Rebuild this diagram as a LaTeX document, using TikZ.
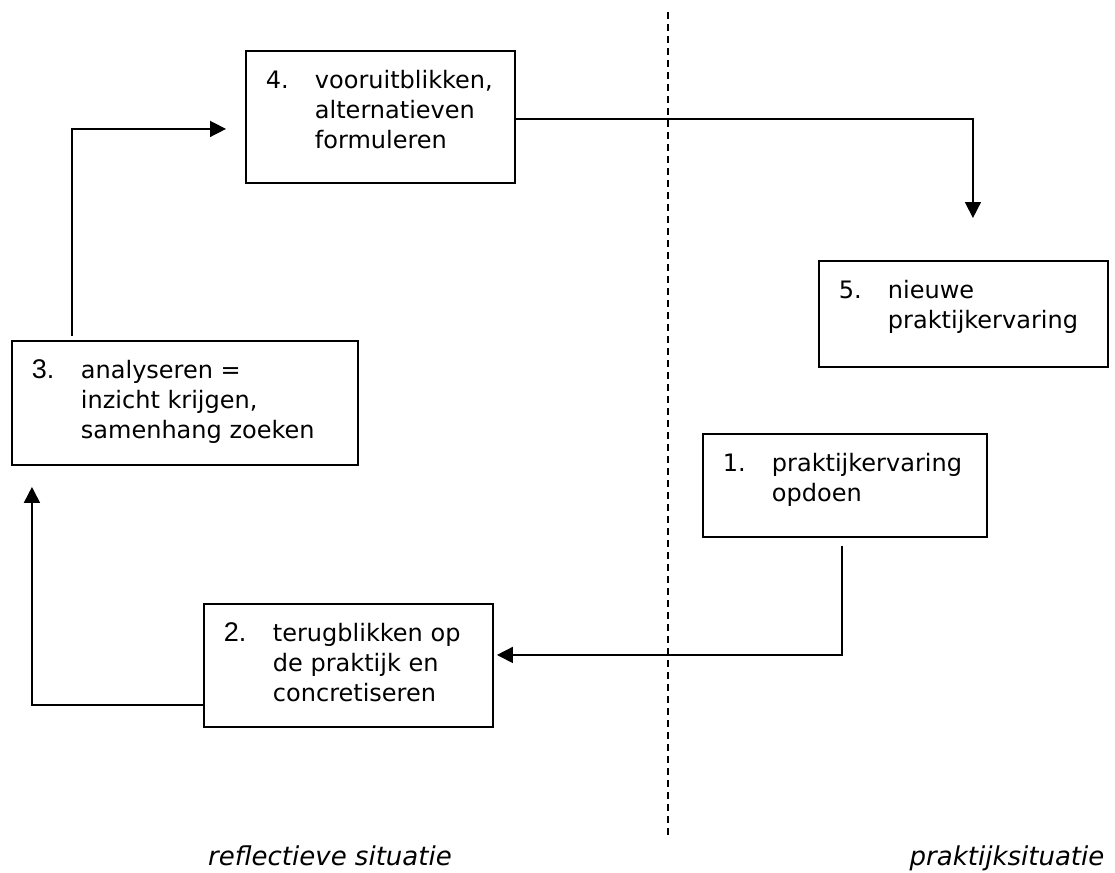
\documentclass[tikz,border=0pt]{standalone}
\usepackage{fontspec}
\setmainfont{DejaVu Sans}
\newfontfamily\cijferfont{Liberation Sans}
\usetikzlibrary{arrows.meta}

\newcommand{\fasetekst}[4]{%
\parbox[t][#2pt][t]{#1pt}{\vspace*{17pt}%
\hspace*{20pt}\makebox[49pt][l]{#3}\begin{tabular}[t]{@{}l@{}}#4\end{tabular}}}

\tikzset{
  fase/.style={draw=black,line width=1.9pt,anchor=north west,inner sep=0pt,
    font=\fontsize{24}{30}\selectfont},
  pijl/.style={line width=1.6pt,-{Triangle[length=16pt,width=16pt]}},
  grens/.style={line width=1.4pt,dash pattern=on 7pt off 5pt},
  situatie/.style={anchor=base,inner sep=0pt,font=\fontsize{26}{30}\selectfont\itshape}
}

\begin{document}
\begin{tikzpicture}[x=1pt,y=-1pt]
\useasboundingbox (0,0) rectangle (1115,872);
% scheidslijn
\coordinate (grens-boven) at (668,12);
\coordinate (grens-onder) at (668,835);
\draw[grens] (grens-boven) -- (grens-onder);
% fasen
\node[fase] (f4) at (245,50) {\fasetekst{269}{132}{4.}{vooruitblikken,\\alternatieven\\formuleren}};
\node[fase] (f5) at (818,260) {\fasetekst{289}{106}{5.}{nieuwe\\praktijkervaring}};
\node[fase] (f3) at (11,340) {\fasetekst{346}{124}{{\cijferfont\fontsize{27}{30}\selectfont 3.}}{analyseren =\\inzicht krijgen,\\samenhang zoeken}};
\node[fase] (f1) at (702,433) {\fasetekst{284}{103}{1.}{praktijkervaring\\opdoen}};
\node[fase] (f2) at (203,603) {\fasetekst{289}{123}{{\cijferfont\fontsize{27}{30}\selectfont 2.}}{terugblikken op\\de praktijk en\\concretiseren}};
% verbindingen
\draw[pijl] ([xshift=61pt,yshift=4pt]f3.north west) |- ([xshift=-19pt,yshift=-12pt]f4.west);
\draw[pijl] ([yshift=-2pt]f4.east) -| ([xshift=9.5pt,yshift=42pt]f5.north);
\draw[pijl] ([xshift=-3pt,yshift=-8pt]f1.south) |- ([xshift=3pt,yshift=10.5pt]f2.east);
\draw[pijl] ([yshift=-39.5pt]f2.west) -| ([xshift=-153pt,yshift=-21pt]f3.south);
% situaties
\node[situatie] (refl) at (330,865) {reflectieve situatie};
\node[situatie] (prak) at (1007,865) {praktijksituatie};
\end{tikzpicture}
\end{document}
